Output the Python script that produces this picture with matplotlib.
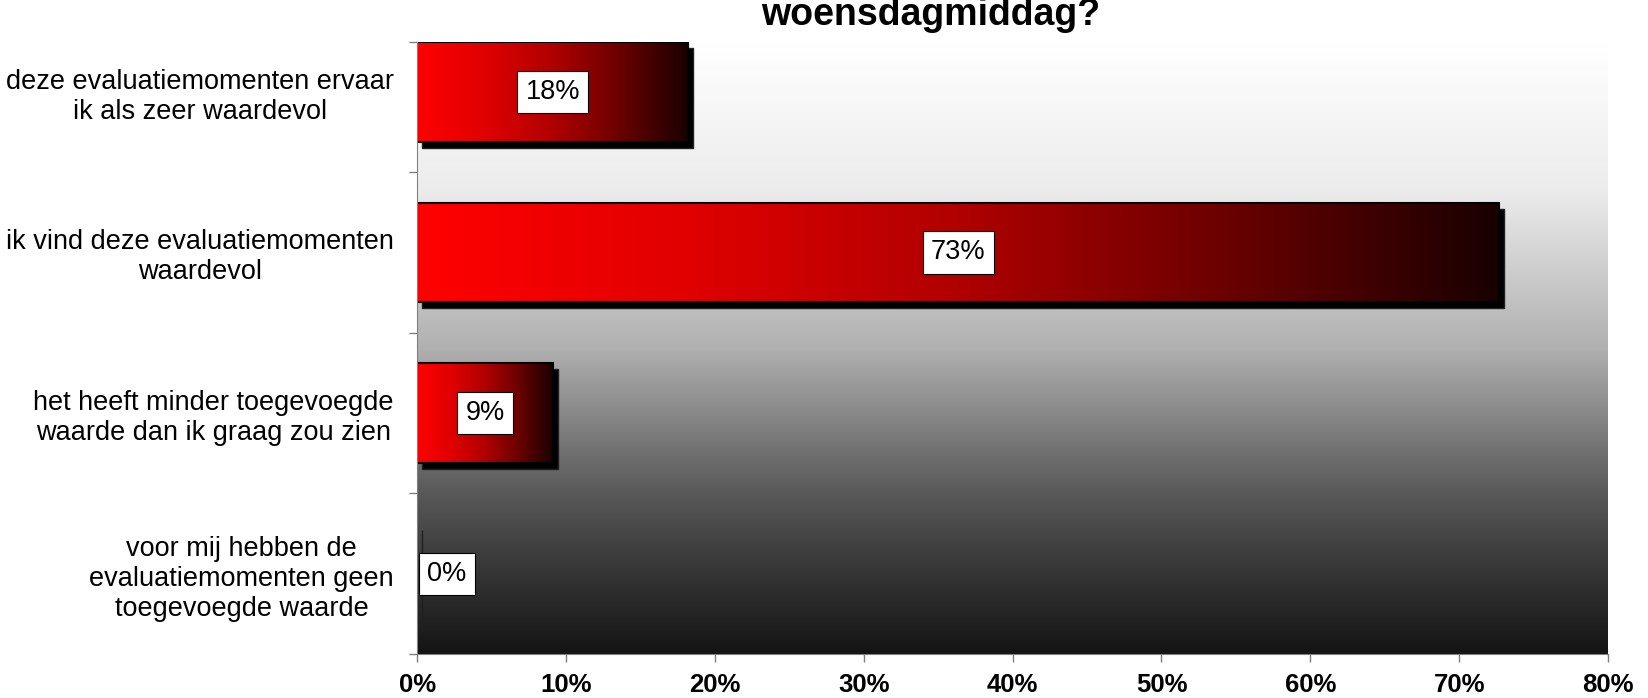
import matplotlib
matplotlib.use("Agg")
import matplotlib.pyplot as plt
import matplotlib.transforms as mtransforms
from matplotlib.colors import LinearSegmentedColormap
import numpy as np

plt.rcParams['font.family'] = ['Liberation Sans', 'DejaVu Sans']

# Data
categories = [
    "deze evaluatiemomenten ervaar\nik als zeer waardevol",
    "ik vind deze evaluatiemomenten\nwaardevol",
    "het heeft minder toegevoegde\nwaarde dan ik graag zou zien",
    "voor mij hebben de\nevaluatiemomenten geen\ntoegevoegde waarde",
]
values = [18.2, 72.7, 9.1, 0.0]
xticks = [0, 10, 20, 30, 40, 50, 60, 70, 80]
title = "woensdagmiddag?"

positions = np.arange(len(categories))[::-1]
bar_h = 0.62

fig = plt.figure(figsize=(16.48, 6.98), dpi=100)
ax = fig.add_axes([417.3 / 1648, 1 - 654 / 698, (1608 - 417.3) / 1648, (654 - 42) / 698])
ax.set_xlim(0, 80)
ax.set_ylim(-0.5, 3.31)

# Background gradient (white at the top, near black at the bottom)
bg_cmap = LinearSegmentedColormap.from_list("bg", [
    (0.0, "#ffffff"), (0.24, "#ececec"), (0.5, "#b0b0b0"), (0.63, "#808080"),
    (0.74, "#585858"), (0.85, "#3a3a3a"), (1.0, "#141414")])
grad = np.linspace(0, 1, 256).reshape(-1, 1)
ax.imshow(grad, cmap=bg_cmap, aspect='auto', extent=[0, 1, 0, 1], origin='upper',
          transform=ax.transAxes, zorder=0, interpolation='bilinear')

# Bar gradient red -> black
bar_cmap = LinearSegmentedColormap.from_list("bar", [
    (0.0, "#ff0000"), (0.25, "#e00000"), (0.5, "#b00000"), (0.75, "#6a0000"), (1.0, "#1a0000")])
hgrad = np.linspace(0, 1, 256).reshape(1, -1)

# Shadows
shadow_tr = mtransforms.offset_copy(ax.transData, fig=fig, x=5, y=-6, units='dots')
ax.barh(positions, values, height=bar_h, color='black', edgecolor='#202020',
        linewidth=1, transform=shadow_tr, zorder=2)

# Bars
bars = ax.barh(positions, values, height=bar_h, facecolor='none', edgecolor='black',
               linewidth=1.5, zorder=4)
for bar, v, y in zip(bars, values, positions):
    if v > 0:
        im = ax.imshow(hgrad, cmap=bar_cmap, aspect='auto',
                       extent=[0, v, y - bar_h / 2, y + bar_h / 2],
                       zorder=3, interpolation='bilinear')
        im.set_clip_path(bar)

# Data labels
box = dict(boxstyle='square,pad=0.3', facecolor='white', edgecolor='black', linewidth=0.8)
for v, y in zip(values, positions):
    if v > 0:
        ax.text(v / 2, y, f"{v:.0f}%", ha='center', va='center', fontsize=19.5, zorder=5, bbox=box)
    else:
        ax.annotate(f"{v:.0f}%", (v, y), xytext=(10, 0), textcoords='offset pixels',
                    ha='left', va='center', fontsize=19.5, zorder=5, bbox=box)

# Axes styling
for s in ['top', 'right']:
    ax.spines[s].set_visible(False)
ax.spines['left'].set_color('#808080')
ax.spines['bottom'].set_color('#808080')
ax.spines['left'].set_zorder(6)

ax.set_xticks(xticks, [f"{t}%" for t in xticks])
ax.tick_params(axis='x', colors='#808080', labelcolor='black', length=6, width=1,
               labelsize=18.5, pad=8)
for lbl in ax.get_xticklabels():
    lbl.set_fontweight('bold')

ax.set_yticks(positions, categories)
ax.set_yticks([-0.5, 0.5, 1.5, 2.5, 3.31], minor=True)
ax.tick_params(axis='y', which='major', length=0, labelsize=19.5, pad=17)
ax.tick_params(axis='y', which='minor', length=6, width=1, colors='#808080')
for lbl in ax.get_yticklabels():
    lbl.set_multialignment('center')

# Title (its top is cut off by the figure edge)
fig.text(931 / 1648, 1 - 25 / 698, title, ha='center', va='baseline',
         fontsize=27, fontweight='bold')

fig.savefig("out.png", dpi=100)
